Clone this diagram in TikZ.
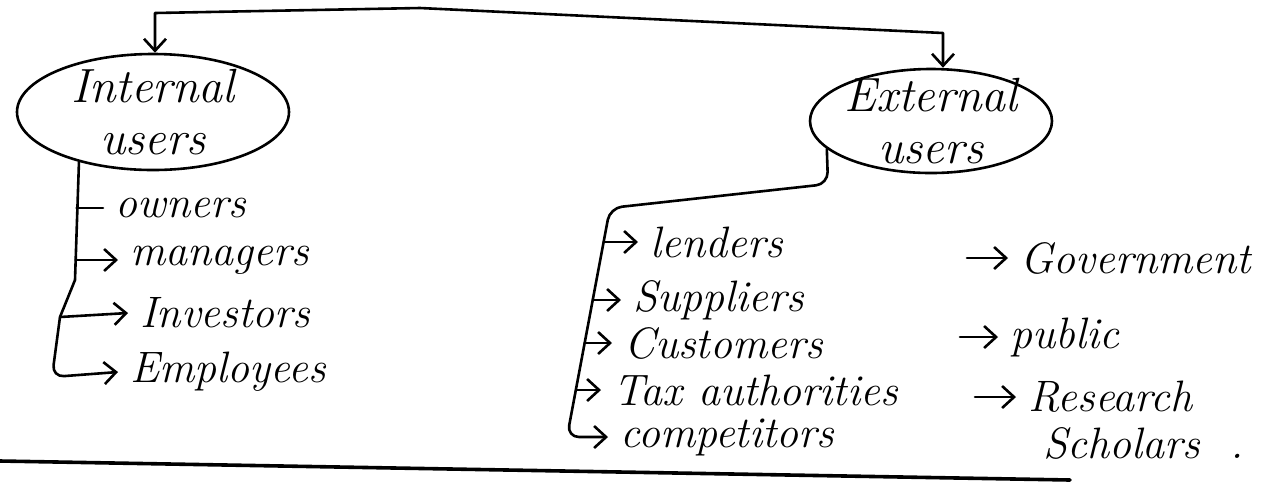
\documentclass[tikz,border=0pt]{standalone}
\usepackage{fontspec}
\usetikzlibrary{arrows.meta,shapes.geometric}
\tikzset{
  ink/.style={line width=1.3pt, line cap=round, line join=round},
  tip/.tip={Straight Barb[length=6pt,width=11pt,line width=1.3pt]},
  arr/.style={ink, -tip},
  lbl/.style={anchor=west, inner xsep=6pt, inner ysep=0pt, font=\fontsize{22}{26}\selectfont\itshape},
  userbox/.style={ellipse, draw, ink, inner sep=-8pt, align=center, font=\fontsize{24}{26}\selectfont\itshape},
}
\begin{document}
\begin{tikzpicture}[x=0.5pt,y=-0.5pt]
\useasboundingbox (0,0) rectangle (1263,484);
% ellipses
\node[userbox, minimum width=136pt, minimum height=58pt] (ie) at (153,112) {Internal\\users};
\node[userbox, minimum width=121pt, minimum height=52pt] (ee) at (931,121) {External\\users};
% top connector
\coordinate (tl) at (155,13);
\coordinate (tm) at (420,8);
\coordinate (tr) at (943,33);
\draw[ink, tip-tip] (tl |- ie.north) -- (tl) -- (tm) -- (tr) -- (tr |- ee.north);
% internal list
\node[lbl] (own) at (103,208) {owners};
\node[lbl] (man) at (118,260) {managers};
\node[lbl] (inv) at (128,313) {Investors};
\node[lbl] (emp) at (118,372) {Employees};
\coordinate (io) at (76.5,208);
\coordinate (im) at (75.5,260);
\coordinate (ik1) at (75,280);
\coordinate (ik2) at (60,317);
\coordinate (ik3) at (52,377);
\draw[ink] (ie.-146) -- (ik1) -- (ik2);
\draw[arr, rounded corners=6pt] (ik2) -- (ik3) -- (emp.west);
\draw[ink] (io) -- (own.west);
\draw[arr] (im) -- (man.west);
\draw[arr] (ik2) -- (inv.west);
% external list
\node[lbl] (lend) at (638,242) {lenders};
\node[lbl] (supp) at (621,300) {Suppliers};
\node[lbl] (cust) at (612,343) {Customers};
\node[lbl] (tax)  at (601,390) {Tax authorities};
\node[lbl] (comp) at (608,437) {competitors};
\coordinate (eb) at (828,184);
\coordinate (et) at (610,208);
\coordinate (ek) at (567,437);
\coordinate (e1) at (603.6,242);
\coordinate (e2) at (592.7,300);
\coordinate (e3) at (584.7,343);
\coordinate (e4) at (575.8,390);
\draw[arr, rounded corners=6pt] (ee.-165) -- (eb) -- (et) -- (ek) -- (comp.west);
\draw[arr] (e1) -- (lend.west);
\draw[arr] (e2) -- (supp.west);
\draw[arr] (e3) -- (cust.west);
\draw[arr] (e4) -- (tax.west);
% right column
\node[lbl] (gov) at (1008,258) {Government};
\node[lbl] (pub) at (998,337) {public};
\node[lbl] (res) at (1016,397) {Research};
\node[lbl] (sch) at (1031,443) {Scholars\ \ .};
\coordinate (g0) at (967,258);
\coordinate (p0) at (960,337);
\coordinate (r0) at (975,397);
\draw[arr] (g0) -- (gov.west);
\draw[arr] (p0) -- (pub.west);
\draw[arr] (r0) -- (res.west);
% bottom rule
\coordinate (bl) at (0,461);
\coordinate (br) at (1070,480);
\draw[ink, line width=1.8pt] (bl) -- (br);
\end{tikzpicture}
\end{document}
